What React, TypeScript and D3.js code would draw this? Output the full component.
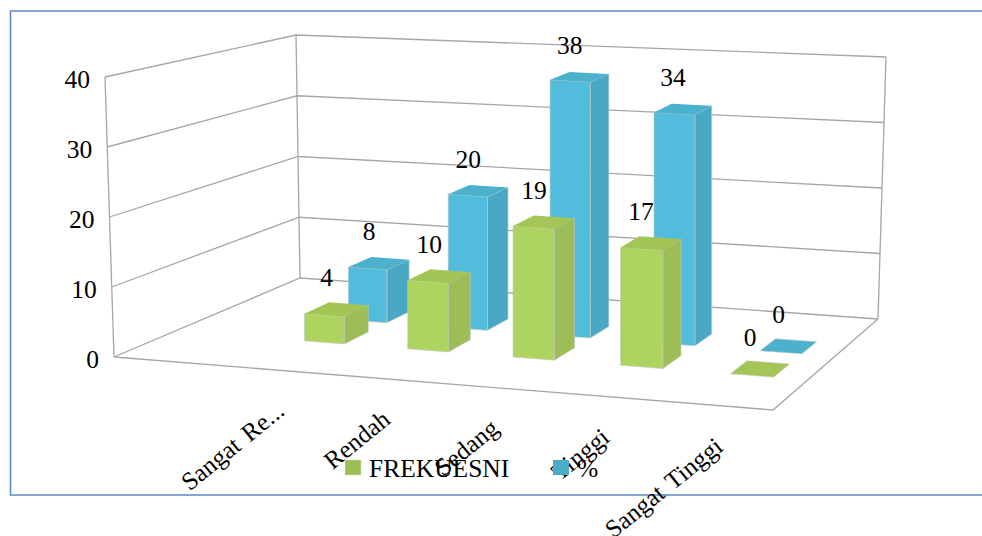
import React from "react";
import * as d3 from "d3";

// Chart values
const categories = ["Sangat Rendah", "Rendah", "Sedang", "Tinggi", "Sangat Tinggi"];
const categoryLabels = ["Sangat Re...", "Rendah", "Sedang", "Tinggi", "Sangat Tinggi"];
const frekuensi = [4, 10, 19, 17, 0];
const persen = [8, 20, 38, 34, 0];
const valueTicks = [0, 10, 20, 30, 40];
const seriesNames = ["FREKUESNI", "%"];

type Pt = [number, number];

// Builds the projective map from the unit square to a screen quadrilateral.
// Corners are ordered: front-left, front-right, back-right, back-left.
function quadMap([p00, p10, p11, p01]: Pt[]) {
  const dx1 = p10[0] - p11[0], dy1 = p10[1] - p11[1];
  const dx2 = p01[0] - p11[0], dy2 = p01[1] - p11[1];
  const sx = p00[0] - p10[0] + p11[0] - p01[0];
  const sy = p00[1] - p10[1] + p11[1] - p01[1];
  const den = dx1 * dy2 - dy1 * dx2;
  const g = (sx * dy2 - sy * dx2) / den;
  const h = (dx1 * sy - dy1 * sx) / den;
  const a = p10[0] * (g + 1) - p00[0], b = p01[0] * (h + 1) - p00[0];
  const d = p10[1] * (g + 1) - p00[1], e = p01[1] * (h + 1) - p00[1];
  return (u: number, v: number): Pt => {
    const w = g * u + h * v + 1;
    return [(a * u + b * v + p00[0]) / w, (d * u + e * v + p00[1]) / w];
  };
}

const floorQuad: Pt[] = [[114, 357], [773, 410], [878, 319], [300, 278]];
const floorMap = quadMap(floorQuad);

// Screen height of the full value range at each floor corner, and the lean of the wall edges.
const barHeight = { fl: 280, fr: 287, br: 265, bl: 246 };
const wallHeight = { fl: 280, fr: 285, br: 262, bl: 243 };
const wallLean = { left: -9, back: -4, right: 8 };

const heightScale = d3.scaleLinear().domain([0, 40]).range([0, 1]);
const categoryScale = d3.scalePoint<string>().domain(categories).range([0.2145, 0.884]);

function rangeHeightAt(h: typeof barHeight, u: number, z: number) {
  const front = h.fl + (h.fr - h.fl) * u;
  const back = h.bl + (h.br - h.bl) * u;
  return front + (back - front) * z;
}

// Position of a bar corner: a floor point (u across, z into the chart) raised straight up.
function project(u: number, z: number, value: number): Pt {
  const f = floorMap(u, z);
  return [f[0], f[1] - rangeHeightAt(barHeight, u, z) * heightScale(value)];
}

// Position on a wall edge, which leans slightly as it rises.
function wallPoint(u: number, z: number, value: number, lean: number): Pt {
  const f = floorMap(u, z);
  const t = heightScale(value);
  return [f[0] + lean * t, f[1] - rangeHeightAt(wallHeight, u, z) * t];
}

const polygon = d3.line<Pt>().curve(d3.curveLinearClosed);
const segment = d3.line<Pt>();

const BAR_WIDTH = 0.065;
const BAR_DEPTH = 0.14;
const GRID = "#a6a6a6";
const FONT = "'Liberation Serif', serif";

const palettes = {
  green: { front: "#add45f", top: "#a2c556", side: "#9dbd57", swatch: "#9dbd57" },
  blue: { front: "#52bcdd", top: "#4cb1cd", side: "#49a9c5", swatch: "#4aacc5" },
};

const seriesLayout = [
  { values: persen, z: 0.553, colors: palettes.blue },
  { values: frekuensi, z: 0.3, colors: palettes.green },
];

function Bar({ category, value, z, colors }: { category: string; value: number; z: number; colors: typeof palettes.green }) {
  const u0 = categoryScale(category)!;
  const u1 = u0 + BAR_WIDTH;
  const z1 = z + BAR_DEPTH;
  const edge = "#c4c8c0";
  return (
    <g stroke={edge} strokeWidth={0.6} strokeLinejoin="round">
      {value > 0 && (
        <path fill={colors.side} d={polygon([project(u1, z, 0), project(u1, z1, 0), project(u1, z1, value), project(u1, z, value)])!} />
      )}
      {value > 0 && (
        <path fill={colors.front} d={polygon([project(u0, z, 0), project(u1, z, 0), project(u1, z, value), project(u0, z, value)])!} />
      )}
      <path fill={colors.top} stroke={value > 0 ? "none" : edge} d={polygon([project(u0, z, value), project(u1, z, value), project(u1, z1, value), project(u0, z1, value)])!} />
    </g>
  );
}

export default function App() {
  return (
    <svg width={982} height={536} style={{ position: "absolute", left: 0, top: 0, background: "#fff" }}>
      {/* Outer frame, open past the right edge of the page */}
      <path d="M982,11H10.5V495H982" fill="none" stroke="#5f8ac6" strokeWidth={1.6} />

      {/* Walls and floor */}
      <g fill="none" stroke={GRID} strokeWidth={1.3}>
        {valueTicks.map((t) => (
          <path
            key={t}
            d={segment([wallPoint(0, 0, t, wallLean.left), wallPoint(0, 1, t, wallLean.back), wallPoint(1, 1, t, wallLean.right)])!}
          />
        ))}
        <path d={segment([wallPoint(0, 0, 0, 0), wallPoint(0, 0, 40, wallLean.left)])!} />
        <path d={segment([wallPoint(0, 1, 0, 0), wallPoint(0, 1, 40, wallLean.back)])!} />
        <path d={segment([wallPoint(1, 1, 0, 0), wallPoint(1, 1, 40, wallLean.right)])!} />
        <path d={segment([wallPoint(0, 0, 0, 0), wallPoint(1, 0, 0, 0), wallPoint(1, 1, 0, 0)])!} />
      </g>

      {/* Bars, rear series first */}
      {seriesLayout.map((s, si) => (
        <g key={si}>
          {categories.map((c, i) => (
            <Bar key={c} category={c} value={s.values[i]} z={s.z} colors={s.colors} />
          ))}
        </g>
      ))}

      <g fontFamily={FONT} fontSize={25.5} fill="#000">
        {/* Value axis */}
        {valueTicks.map((t) => {
          const [x, y] = wallPoint(0, 0, t, wallLean.left);
          return (
            <text key={t} x={x - 15} y={y + 11} textAnchor="end">
              {t}
            </text>
          );
        })}

        {/* Value labels sit just above each bar's top face */}
        {seriesLayout.map((s, si) =>
          categories.map((c, i) => {
            const u = categoryScale(c)! + BAR_WIDTH / 2;
            const [x, y] = project(u, s.z + BAR_DEPTH / 2, s.values[i]);
            return (
              <text key={`${si}-${c}`} x={x - 10} y={y - 23} textAnchor="middle">
                {s.values[i]}
              </text>
            );
          })
        )}

        {/* Category labels */}
        <g fontSize={25} wordSpacing={3}>
          {categories.map((c, i) => {
            const [x, y] = project(categoryScale(c)! + BAR_WIDTH / 2, 0, 0);
            return (
              <text key={c} textAnchor="end" transform={`translate(${x + 17 - 1.8 * i},${y + 44}) rotate(-39)`}>
                {categoryLabels[i]}
              </text>
            );
          })}
        </g>

        {/* Legend */}
        <rect x={345} y={460} width={16} height={15} fill={palettes.green.swatch} stroke="#d9e4c0" strokeWidth={0.6} />
        <text x={369} y={477}>{seriesNames[0]}</text>
        <rect x={553} y={460} width={16} height={15} fill={palettes.blue.swatch} />
        <text x={577} y={477}>{seriesNames[1]}</text>
      </g>
    </svg>
  );
}
